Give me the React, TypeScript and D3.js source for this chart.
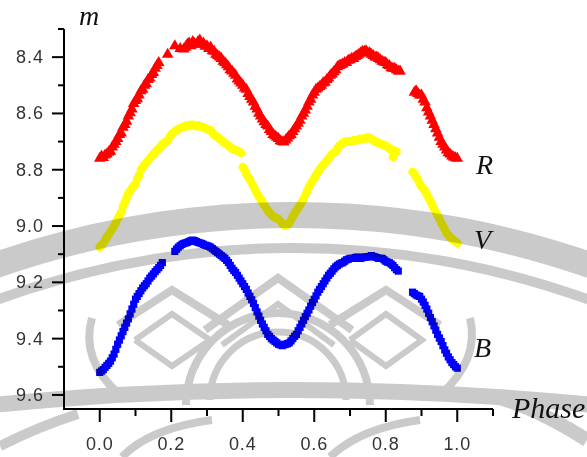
import React from 'react';
import * as d3 from 'd3';

// phase, magnitude (R, V, B)
const rPoints: [number, number][] = [
  [0.0, 8.76], [0.005, 8.752], [0.01, 8.757], [0.015, 8.748], [0.02, 8.745], [0.025, 8.738],
  [0.03, 8.735], [0.035, 8.72], [0.04, 8.71], [0.045, 8.7], [0.05, 8.69], [0.055, 8.675],
  [0.06, 8.67], [0.065, 8.65], [0.07, 8.64], [0.075, 8.628], [0.08, 8.61], [0.085, 8.598],
  [0.09, 8.585], [0.095, 8.565], [0.1, 8.555], [0.105, 8.548], [0.11, 8.535], [0.115, 8.52],
  [0.12, 8.515], [0.125, 8.5], [0.13, 8.495], [0.135, 8.48], [0.14, 8.475], [0.145, 8.462],
  [0.15, 8.455], [0.155, 8.44], [0.16, 8.43], [0.165, 8.42], [0.19, 8.39], [0.21, 8.36],
  [0.225, 8.37], [0.235, 8.372], [0.24, 8.365], [0.245, 8.355], [0.25, 8.35], [0.255, 8.36],
  [0.26, 8.345], [0.265, 8.352], [0.27, 8.355], [0.275, 8.345], [0.28, 8.34], [0.285, 8.355],
  [0.29, 8.35], [0.295, 8.362], [0.3, 8.36], [0.305, 8.37], [0.31, 8.365], [0.315, 8.378],
  [0.32, 8.38], [0.325, 8.39], [0.33, 8.395], [0.335, 8.4], [0.34, 8.405], [0.345, 8.415],
  [0.35, 8.42], [0.355, 8.428], [0.36, 8.435], [0.365, 8.445], [0.37, 8.45], [0.375, 8.458],
  [0.38, 8.465], [0.385, 8.478], [0.39, 8.485], [0.395, 8.492], [0.4, 8.5], [0.405, 8.51],
  [0.41, 8.515], [0.415, 8.53], [0.42, 8.54], [0.425, 8.55], [0.43, 8.56], [0.435, 8.575],
  [0.44, 8.585], [0.445, 8.6], [0.45, 8.61], [0.455, 8.62], [0.46, 8.63], [0.465, 8.64],
  [0.47, 8.645], [0.475, 8.658], [0.48, 8.665], [0.485, 8.675], [0.49, 8.68], [0.495, 8.685],
  [0.5, 8.69], [0.505, 8.698], [0.51, 8.7], [0.515, 8.702], [0.52, 8.695], [0.525, 8.688],
  [0.53, 8.68], [0.535, 8.675], [0.54, 8.665], [0.545, 8.655], [0.55, 8.645], [0.555, 8.635],
  [0.56, 8.625], [0.565, 8.61], [0.57, 8.6], [0.575, 8.588], [0.58, 8.575], [0.585, 8.56],
  [0.59, 8.55], [0.595, 8.535], [0.6, 8.525], [0.605, 8.515], [0.61, 8.51], [0.615, 8.505],
  [0.62, 8.5], [0.625, 8.492], [0.63, 8.49], [0.635, 8.48], [0.64, 8.475], [0.645, 8.465],
  [0.65, 8.46], [0.655, 8.452], [0.66, 8.445], [0.665, 8.435], [0.67, 8.43], [0.675, 8.428],
  [0.68, 8.425], [0.685, 8.42], [0.69, 8.42], [0.695, 8.412], [0.7, 8.41], [0.705, 8.405],
  [0.71, 8.405], [0.715, 8.398], [0.72, 8.395], [0.725, 8.39], [0.73, 8.385], [0.735, 8.38],
  [0.74, 8.38], [0.745, 8.378], [0.75, 8.385], [0.755, 8.385], [0.76, 8.39], [0.765, 8.395],
  [0.77, 8.4], [0.775, 8.4], [0.78, 8.405], [0.785, 8.41], [0.79, 8.415], [0.795, 8.418],
  [0.8, 8.42], [0.805, 8.428], [0.81, 8.43], [0.815, 8.438], [0.82, 8.44], [0.825, 8.44],
  [0.83, 8.445], [0.835, 8.45], [0.84, 8.45],
  [0.88, 8.525], [0.885, 8.52], [0.89, 8.53], [0.895, 8.535], [0.9, 8.535], [0.905, 8.55],
  [0.91, 8.56], [0.915, 8.58], [0.92, 8.595], [0.925, 8.61], [0.93, 8.625], [0.935, 8.64],
  [0.94, 8.655], [0.945, 8.67], [0.95, 8.685], [0.955, 8.7], [0.96, 8.71], [0.965, 8.72],
  [0.97, 8.73], [0.975, 8.74], [0.98, 8.745], [0.985, 8.752], [0.99, 8.755], [0.995, 8.758],
  [1.0, 8.76],
];

const vPoints: [number, number][] = [
  [0.0, 9.075], [0.005, 9.068], [0.01, 9.06], [0.015, 9.05], [0.02, 9.04], [0.025, 9.03],
  [0.03, 9.02], [0.035, 9.01], [0.04, 9.0], [0.045, 8.988], [0.05, 8.975], [0.055, 8.962],
  [0.06, 8.95], [0.065, 8.93], [0.07, 8.915], [0.075, 8.9], [0.08, 8.885], [0.085, 8.875],
  [0.09, 8.865], [0.095, 8.858], [0.1, 8.85], [0.105, 8.832], [0.11, 8.82], [0.115, 8.8],
  [0.12, 8.79], [0.125, 8.782], [0.13, 8.775], [0.135, 8.768], [0.14, 8.76], [0.145, 8.752],
  [0.15, 8.745], [0.155, 8.738], [0.16, 8.73], [0.165, 8.725], [0.17, 8.72], [0.175, 8.71],
  [0.18, 8.705], [0.185, 8.7], [0.19, 8.695], [0.195, 8.685], [0.2, 8.675], [0.205, 8.67],
  [0.21, 8.665], [0.215, 8.66], [0.22, 8.655], [0.225, 8.652], [0.23, 8.65], [0.235, 8.647],
  [0.24, 8.645], [0.245, 8.642], [0.25, 8.645], [0.255, 8.64], [0.26, 8.64], [0.265, 8.643],
  [0.27, 8.645], [0.275, 8.642], [0.28, 8.645], [0.285, 8.648], [0.29, 8.65], [0.295, 8.652],
  [0.3, 8.655], [0.305, 8.658], [0.31, 8.66], [0.315, 8.668], [0.32, 8.675], [0.325, 8.68],
  [0.33, 8.685], [0.335, 8.69], [0.34, 8.695], [0.345, 8.7], [0.35, 8.705], [0.355, 8.71],
  [0.36, 8.715], [0.365, 8.72], [0.37, 8.725], [0.375, 8.728], [0.38, 8.73], [0.385, 8.733],
  [0.39, 8.735], [0.395, 8.74], [0.4, 8.79], [0.405, 8.8], [0.41, 8.815], [0.415, 8.825],
  [0.42, 8.835], [0.425, 8.848], [0.43, 8.86], [0.435, 8.872], [0.44, 8.885], [0.445, 8.895],
  [0.45, 8.905], [0.455, 8.915], [0.46, 8.925], [0.465, 8.935], [0.47, 8.945], [0.475, 8.952],
  [0.48, 8.96], [0.485, 8.965], [0.49, 8.97], [0.495, 8.972], [0.5, 8.975], [0.505, 8.982],
  [0.51, 8.99], [0.515, 8.995], [0.52, 9.0], [0.525, 8.995], [0.53, 8.99], [0.535, 8.978],
  [0.54, 8.965], [0.545, 8.955], [0.55, 8.945], [0.555, 8.935], [0.56, 8.925], [0.565, 8.915],
  [0.57, 8.905], [0.575, 8.89], [0.58, 8.875], [0.585, 8.862], [0.59, 8.85], [0.595, 8.84],
  [0.6, 8.83], [0.605, 8.82], [0.61, 8.81], [0.615, 8.8], [0.62, 8.79], [0.625, 8.782],
  [0.63, 8.775], [0.635, 8.768], [0.64, 8.76], [0.645, 8.752], [0.65, 8.745], [0.655, 8.74],
  [0.66, 8.735], [0.665, 8.725], [0.67, 8.715], [0.675, 8.71], [0.68, 8.705], [0.685, 8.702],
  [0.69, 8.7], [0.695, 8.7], [0.7, 8.7], [0.705, 8.698], [0.71, 8.695], [0.715, 8.695],
  [0.72, 8.695], [0.725, 8.692], [0.73, 8.69], [0.735, 8.69], [0.74, 8.69], [0.745, 8.688],
  [0.75, 8.685], [0.755, 8.688], [0.76, 8.69], [0.765, 8.695], [0.77, 8.7], [0.775, 8.702],
  [0.78, 8.705], [0.785, 8.708], [0.79, 8.71], [0.795, 8.712], [0.8, 8.715], [0.805, 8.72],
  [0.81, 8.725], [0.815, 8.728], [0.82, 8.73], [0.82, 8.755], [0.825, 8.735], [0.83, 8.735],
  [0.875, 8.808], [0.88, 8.815], [0.885, 8.825], [0.89, 8.835], [0.895, 8.85], [0.9, 8.86],
  [0.905, 8.868], [0.91, 8.875], [0.915, 8.888], [0.92, 8.9], [0.925, 8.912], [0.93, 8.925],
  [0.935, 8.938], [0.94, 8.95], [0.945, 8.962], [0.95, 8.975], [0.955, 8.988], [0.96, 9.0],
  [0.965, 9.012], [0.97, 9.025], [0.975, 9.032], [0.98, 9.04], [0.985, 9.045], [0.99, 9.05],
  [0.995, 9.055], [1.0, 9.06],
];

const bPoints: [number, number][] = [
  [0.0, 9.52], [0.005, 9.515], [0.01, 9.51], [0.015, 9.502], [0.02, 9.495], [0.025, 9.488],
  [0.03, 9.48], [0.035, 9.468], [0.04, 9.455], [0.045, 9.438], [0.05, 9.42], [0.055, 9.405],
  [0.06, 9.39], [0.065, 9.375], [0.07, 9.36], [0.075, 9.345], [0.08, 9.33], [0.085, 9.312],
  [0.09, 9.295], [0.095, 9.278], [0.1, 9.26], [0.105, 9.25], [0.11, 9.24], [0.115, 9.23],
  [0.12, 9.22], [0.125, 9.212], [0.13, 9.205], [0.135, 9.195], [0.14, 9.185], [0.145, 9.178],
  [0.15, 9.17], [0.155, 9.162], [0.16, 9.155], [0.165, 9.148], [0.17, 9.14], [0.175, 9.13],
  [0.21, 9.09], [0.215, 9.082], [0.22, 9.075], [0.225, 9.07], [0.23, 9.065], [0.235, 9.062],
  [0.24, 9.06], [0.245, 9.058], [0.25, 9.055], [0.255, 9.052], [0.26, 9.05], [0.265, 9.052],
  [0.27, 9.055], [0.275, 9.058], [0.28, 9.06], [0.285, 9.062], [0.29, 9.065], [0.295, 9.068],
  [0.3, 9.07], [0.305, 9.072], [0.31, 9.075], [0.315, 9.08], [0.32, 9.085], [0.325, 9.09],
  [0.33, 9.095], [0.335, 9.1], [0.34, 9.105], [0.345, 9.11], [0.35, 9.115], [0.355, 9.122],
  [0.36, 9.13], [0.365, 9.14], [0.37, 9.15], [0.375, 9.158], [0.38, 9.165], [0.385, 9.175],
  [0.39, 9.185], [0.395, 9.195], [0.4, 9.205], [0.405, 9.215], [0.41, 9.225], [0.415, 9.238],
  [0.42, 9.25], [0.425, 9.262], [0.43, 9.275], [0.435, 9.29], [0.44, 9.305], [0.445, 9.32],
  [0.45, 9.335], [0.455, 9.348], [0.46, 9.36], [0.465, 9.372], [0.47, 9.385], [0.475, 9.392],
  [0.48, 9.4], [0.485, 9.405], [0.49, 9.41], [0.495, 9.415], [0.5, 9.42], [0.505, 9.422],
  [0.51, 9.425], [0.515, 9.422], [0.52, 9.42], [0.525, 9.418], [0.53, 9.415], [0.535, 9.408],
  [0.54, 9.4], [0.545, 9.392], [0.55, 9.385], [0.555, 9.372], [0.56, 9.36], [0.565, 9.348],
  [0.57, 9.335], [0.575, 9.322], [0.58, 9.31], [0.585, 9.298], [0.59, 9.285], [0.595, 9.272],
  [0.6, 9.26], [0.605, 9.248], [0.61, 9.235], [0.615, 9.225], [0.62, 9.215], [0.625, 9.205],
  [0.63, 9.195], [0.635, 9.185], [0.64, 9.175], [0.645, 9.168], [0.65, 9.16], [0.655, 9.152],
  [0.66, 9.145], [0.665, 9.14], [0.67, 9.135], [0.675, 9.132], [0.68, 9.13], [0.685, 9.125],
  [0.69, 9.12], [0.695, 9.118], [0.7, 9.115], [0.705, 9.115], [0.71, 9.115], [0.715, 9.112],
  [0.72, 9.11], [0.725, 9.112], [0.73, 9.115], [0.735, 9.112], [0.74, 9.11], [0.745, 9.11],
  [0.75, 9.11], [0.755, 9.108], [0.76, 9.105], [0.765, 9.108], [0.77, 9.11], [0.775, 9.112],
  [0.78, 9.115], [0.785, 9.115], [0.79, 9.115], [0.795, 9.12], [0.8, 9.125], [0.805, 9.128],
  [0.81, 9.13], [0.815, 9.135], [0.82, 9.14], [0.825, 9.148], [0.83, 9.155], [0.835, 9.16],
  [0.875, 9.235], [0.88, 9.24], [0.885, 9.245], [0.89, 9.248], [0.895, 9.25], [0.9, 9.26],
  [0.905, 9.27], [0.91, 9.282], [0.915, 9.295], [0.92, 9.31], [0.925, 9.325], [0.93, 9.34],
  [0.935, 9.355], [0.94, 9.37], [0.945, 9.385], [0.95, 9.398], [0.955, 9.41], [0.96, 9.425],
  [0.965, 9.44], [0.97, 9.452], [0.975, 9.465], [0.98, 9.475], [0.985, 9.485], [0.99, 9.492],
  [0.995, 9.5], [1.0, 9.505],
];

const xMajor = [0, 0.2, 0.4, 0.6, 0.8, 1.0];
const xMinor = [0.1, 0.3, 0.5, 0.7, 0.9, 1.1];
const yMajor = [8.4, 8.6, 8.8, 9.0, 9.2, 9.4, 9.6];
const yMinor = [8.3, 8.5, 8.7, 8.9, 9.1, 9.3, 9.5];

const W = 587, H = 457;
const left = 64, right = 493, top = 29, bottom = 409;

const App = () => {
  const x = d3.scaleLinear().domain([-0.1, 1.1]).range([left, right]);
  const y = d3.scaleLinear().domain([8.3, 9.65]).range([top, bottom]);
  const tri = d3.symbol(d3.symbolTriangle, 58)()!;
  const sq = d3.symbol(d3.symbolSquare, 52)()!;
  const serif = '"Liberation Serif", "DejaVu Serif", serif';
  const sans = '"Liberation Sans", Arial, sans-serif';
  const wm = '#cacaca';
  const f = d3.format('.1f');

  return (
    <svg width={W} height={H} style={{ position: 'absolute', left: 0, top: 0, background: '#fff' }}>
      <rect width={W} height={H} fill="#fff" />
      {/* data */}
      <g>
        {rPoints.map((d, i) => (
          <path key={'r' + i} d={tri} transform={`translate(${x(d[0])},${y(d[1])})`} fill="#ff0000" />
        ))}
        {vPoints.map((d, i) => (
          <circle key={'v' + i} cx={x(d[0])} cy={y(d[1])} r={4.3} fill="#ffff00" />
        ))}
        {bPoints.map((d, i) => (
          <path key={'b' + i} d={sq} transform={`translate(${x(d[0])},${y(d[1])})`} fill="#0000ff" />
        ))}
      </g>
      {/* watermark */}
      <g style={{ mixBlendMode: 'multiply' }} fill="none" stroke={wm}>
        <circle cx={293} cy={1120} r={905} strokeWidth={26} />
        <circle cx={293} cy={1120} r={872} strokeWidth={10} />
        <circle cx={293} cy={3400} r={3010} strokeWidth={16} />
        <path d="M210,400 A68,68 0 0 1 346,400" strokeWidth={7} />
        <path d="M186,405 A92,92 0 0 1 370,405" strokeWidth={8} />
        <path d="M120,395 Q80,360 92,318" strokeWidth={8} />
        <path d="M440,395 Q480,360 470,318" strokeWidth={8} />
        <polyline points="205,330 278,278 352,330" strokeWidth={8} />
        <polyline points="222,345 278,304 334,345" strokeWidth={6} />
        <polyline points="118,325 172,290 228,325" strokeWidth={8} />
        <polyline points="135,340 172,314 210,340 172,366 135,340" strokeWidth={6} />
        <polyline points="330,325 386,290 440,325" strokeWidth={8} />
        <polyline points="350,340 386,314 422,340 386,366 350,340" strokeWidth={6} />
        <path d="M500,398 Q540,410 587,440" strokeWidth={14} />
        <path d="M0,446 Q40,426 78,414" strokeWidth={10} />
        <path d="M122,457 Q150,428 212,420" strokeWidth={8} />
        <path d="M330,457 Q360,428 420,420" strokeWidth={8} />
      </g>
      {/* axes */}
      <g stroke="#000" strokeWidth={2} fill="none">
        <line x1={left} y1={top} x2={left} y2={bottom + 1} />
        <line x1={left - 1} y1={bottom} x2={right} y2={bottom} />
        {yMajor.map(v => <line key={'ym' + v} x1={left - 12} x2={left} y1={y(v)} y2={y(v)} />)}
        {yMinor.map(v => <line key={'yn' + v} x1={left - 6} x2={left} y1={y(v)} y2={y(v)} />)}
        {xMajor.map(v => <line key={'xm' + v} x1={x(v)} x2={x(v)} y1={bottom} y2={bottom + 13} />)}
        {xMinor.map(v => <line key={'xn' + v} x1={x(v)} x2={x(v)} y1={bottom} y2={bottom + 7} />)}
      </g>
      <g fontFamily={sans} fill="#333">
        {yMajor.map(v => (
          <text key={'yl' + v} x={44} y={y(v) + 6} fontSize={18} letterSpacing={1} textAnchor="end">{f(v)}</text>
        ))}
        {xMajor.map(v => (
          <text key={'xl' + v} x={x(v)} y={450} fontSize={18} letterSpacing={0.8} textAnchor="middle">{f(v)}</text>
        ))}
      </g>
      <g fontFamily={serif} fontStyle="italic" fill="#111" fontSize={28}>
        <text x={79} y={25}>m</text>
        <text x={476} y={174}>R</text>
        <text x={474} y={249}>V</text>
        <text x={474} y={357}>B</text>
        <text x={512} y={418} fontSize={30}>Phase</text>
      </g>
    </svg>
  );
};

export default App;
